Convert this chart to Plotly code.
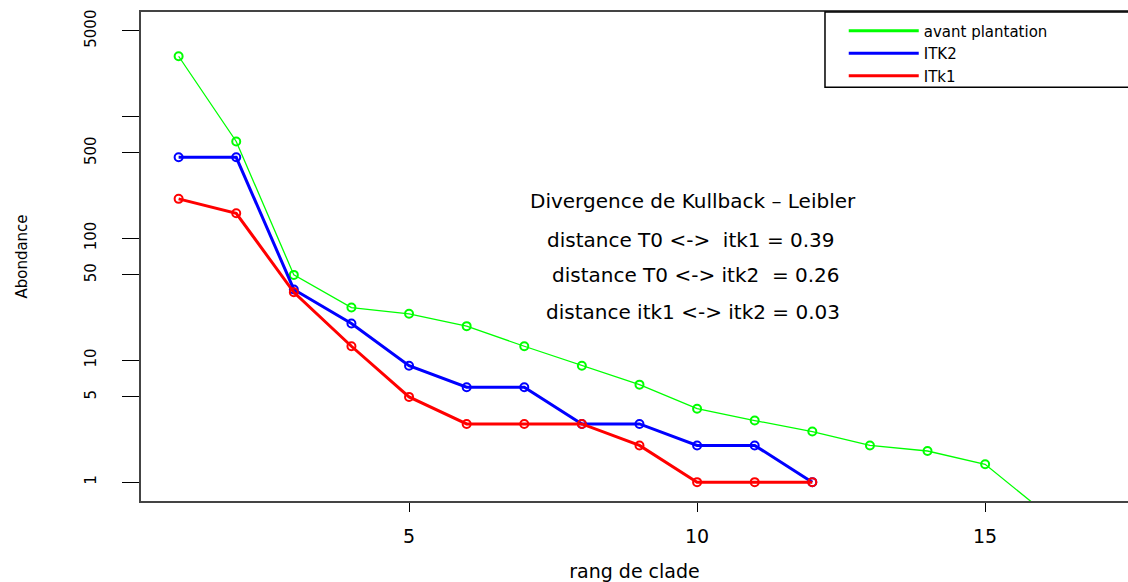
import plotly.graph_objects as go

# ---- data ----
rang_avant = list(range(1, 17))
avant_plantation = [3100, 620, 50, 27, 24, 19, 13, 9, 6.3, 4, 3.2, 2.6, 2, 1.8, 1.4, 0.58]

rang_itk = list(range(1, 13))
itk2 = [460, 460, 38, 20, 9, 6, 6, 3, 3, 2, 2, 1]
itk1 = [210, 160, 36, 13, 5, 3, 3, 3, 2, 1, 1, 1]

series_names = ["avant plantation", "ITK2", "ITk1"]
series_colors = ["#00ff00", "#0000ff", "#ff0000"]

y_tickvals = [1, 5, 10, 50, 100, 500, 1000, 5000]
y_ticktext = ["1", "5", "10", "50", "100", "500", "", "5000"]
x_tickvals = [5, 10, 15]

annot_lines = [
    "Divergence de Kullback \u2013 Leibler",
    "distance T0 <->\u00a0\u00a0itk1 = 0.39",
    "distance T0 <-> itk2\u00a0\u00a0= 0.26",
    "distance itk1 <-> itk2 = 0.03",
]
annot_y = [0.6126, 0.534, 0.463, 0.386]
annot_x = [0.559, 0.557, 0.562, 0.559]

FONT = "DejaVu Sans"

fig = go.Figure()
data_sets = [(rang_avant, avant_plantation, 1.3), (rang_itk, itk2, 3), (rang_itk, itk1, 3)]
for (xs, ys, lw), name, col in zip(data_sets, series_names, series_colors):
    fig.add_trace(go.Scatter(
        x=xs, y=ys, mode="lines+markers", name=name, showlegend=False,
        line=dict(color=col, width=lw),
        marker=dict(symbol="circle-open", size=8, color=col, line=dict(width=2, color=col)),
    ))
# legend entries: lines only, as in the reference
for name, col in zip(series_names, series_colors):
    fig.add_trace(go.Scatter(x=[None], y=[None], mode="lines", name=name,
                             line=dict(color=col, width=3), showlegend=True))

for t, xx, yy in zip(annot_lines, annot_x, annot_y):
    fig.add_annotation(text=t, x=xx, y=yy, xref="paper", yref="paper",
                       showarrow=False, xanchor="center", yanchor="middle",
                       font=dict(family=FONT, size=20, color="black"))

# legend box (extends beyond the right edge like the reference)
fig.add_shape(type="rect", xref="paper", yref="paper", x0=0.693, x1=1.1, y0=0.846, y1=1.0,
              line=dict(color="black", width=1.5), fillcolor="rgba(0,0,0,0)")

fig.update_layout(
    width=1128, height=582,
    margin=dict(l=141, r=0, t=12, b=77),
    paper_bgcolor="white", plot_bgcolor="white",
    font=dict(family=FONT, color="black"),
    showlegend=True,
    legend=dict(x=0.712, y=0.995, xanchor="left", yanchor="top",
                bgcolor="rgba(0,0,0,0)", borderwidth=0,
                font=dict(family=FONT, size=15, color="black"),
                itemwidth=70, tracegroupgap=0),
    xaxis=dict(
        range=[0.347, 17.48], tickvals=x_tickvals, ticks="outside", ticklen=9,
        tickcolor="black", tickwidth=1, showgrid=False, zeroline=False,
        showline=True, linecolor="#444", linewidth=1.5, mirror=True,
        tickfont=dict(family=FONT, size=19), ticklabelstandoff=8,
        title=dict(text="rang de clade", font=dict(family=FONT, size=19), standoff=22),
    ),
    yaxis=dict(
        type="log", range=[-0.1545, 3.854], tickvals=y_tickvals, ticktext=y_ticktext,
        ticks="outside", ticklen=17, tickcolor="black", tickwidth=1,
        showgrid=False, zeroline=False, showline=True, linecolor="#444", linewidth=1.5,
        tickangle=-90, tickfont=dict(family=FONT, size=15), ticklabelstandoff=20,
        title=dict(text="Abondance", font=dict(family=FONT, size=15), standoff=51),
    ),
)

fig.write_html(
    "out.html",
    config={"displayModeBar": False},
    default_width="1128px", default_height="582px",
    post_script="document.body.style.margin='0';document.body.style.overflow='hidden';",
)
